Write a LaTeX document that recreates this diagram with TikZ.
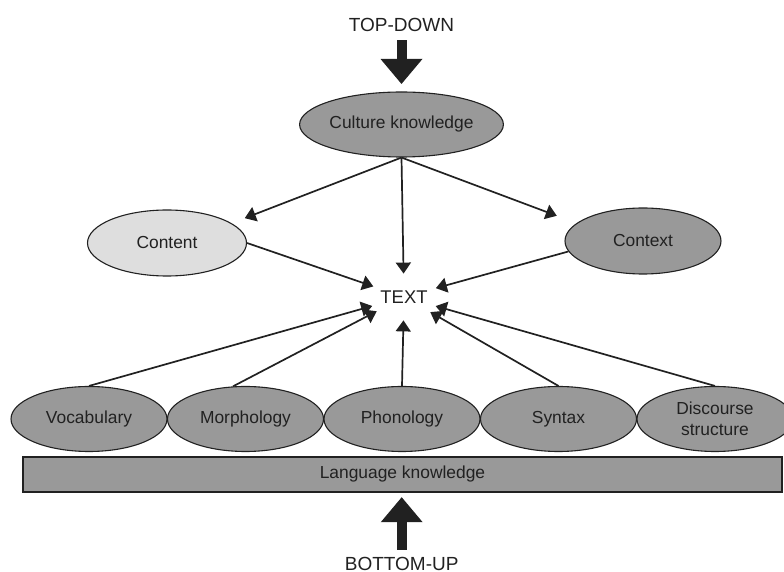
\documentclass[tikz,border=0pt]{standalone}
\usepackage{fontspec}
\setmainfont{Liberation Sans}
\usetikzlibrary{shapes,arrows.meta,positioning,calc}

\definecolor{midgrey}{gray}{0.6}
\definecolor{palegrey}{gray}{0.87}
\definecolor{inkgrey}{gray}{0.13}

\tikzset{
  blob/.style={ellipse, draw=inkgrey, line width=0.55pt, fill=midgrey, minimum width=78pt, minimum height=32.5pt, inner sep=0pt, align=center, text=inkgrey, font=\fontsize{8.7}{10.5}\selectfont},
  link/.style={line width=0.85pt, draw=inkgrey, -{Triangle[length=5.5pt,width=7.5pt]}},
  bigarrow/.style={line width=5pt, draw=inkgrey, -{Triangle[length=12.5pt,width=21pt,line width=0pt]}},
  flowlabel/.style={inner sep=0pt, text=inkgrey, font=\fontsize{9.5}{11}\selectfont}
}

\begin{document}
\begin{tikzpicture}[x=0.5pt, y=-0.5pt]
\useasboundingbox (0,0) rectangle (784,572);

% Top-down side
\node[flowlabel] (topdown) at (401.5,25.3) {TOP-DOWN};
\node[blob] (culture) at (401.5,124.5) {Culture knowledge};

% Middle row
\node[blob, fill=palegrey, minimum width=79.5pt, minimum height=33pt] (content) at (167,243) {Content};
\node[blob, minimum height=33pt] (context) at (643,241) {Context};
\node[ellipse, inner sep=0pt, minimum width=34pt, minimum height=23pt, text=inkgrey, font=\fontsize{9.2}{11}\selectfont] (text) at (404,297) {TEXT};

% Bottom row
\node[blob] (vocab) at (89,419) {Vocabulary};
\node[blob] (morph) at (245.5,419) {Morphology};
\node[blob] (phon) at (402,419) {Phonology};
\node[blob] (syntax) at (558.5,419) {Syntax};
\node[blob] (discourse) at (715,419) {Discourse\\structure};

% Language bar
\node[draw=inkgrey, line width=0.55pt, fill=midgrey, minimum width=379.5pt, minimum height=17.5pt, inner sep=0pt, text=inkgrey, font=\fontsize{8.7}{10.5}\selectfont] (lang) at (402.5,474.5) {Language knowledge};
\node[flowlabel] (bottomup) at (401.7,563.7) {BOTTOM-UP};

% Big arrows
\draw[bigarrow, shorten <=3.9pt, shorten >=3.75pt] (topdown.south) -- (culture.north);
\draw[bigarrow, shorten <=3.45pt, shorten >=2.35pt] (bottomup.north) -- (bottomup.north |- lang.south);

% From culture knowledge
\draw[link, shorten >=7pt] (culture.south) -- (content.17);
\draw[link] (culture.south) -- (text);
\draw[link, shorten >=10.5pt] (culture.south) -- (context.165);

% Into the text
\draw[link] (content.east) -- (text);
\draw[link] (context.188) -- (text);
\draw[link] (vocab.north) -- (text);
\draw[link] (morph.111) -- (text);
\draw[link] (phon.north) -- (text);
\draw[link] (syntax.north) -- (text);
\draw[link] (discourse.north) -- (text);
\end{tikzpicture}
\end{document}
